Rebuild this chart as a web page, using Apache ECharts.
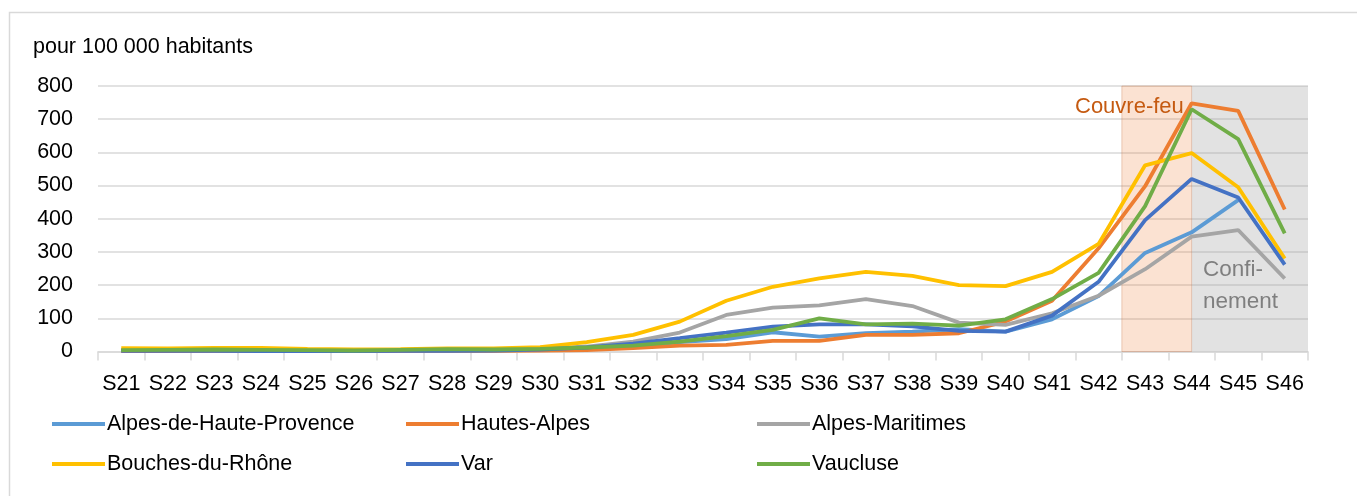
<!DOCTYPE html>
<html>
<head>
<meta charset="utf-8">
<script src="https://cdn.jsdelivr.net/npm/echarts@6/dist/echarts.min.js"></script>
<style>
  html, body { margin: 0; padding: 0; background: #fff; }
  #chart { width: 1357px; height: 496px; }
</style>
</head>
<body>
<div id="chart"></div>
<script>
var weeks = ['S21','S22','S23','S24','S25','S26','S27','S28','S29','S30','S31','S32','S33',
             'S34','S35','S36','S37','S38','S39','S40','S41','S42','S43','S44','S45','S46'];

var alpesHauteProvence = [3,3,3,3,2,2,3,3,3,5,8,15,28,37,58,45,55,60,67,60,97,167,297,359,456,null];
var hautesAlpes        = [1,1,2,2,1,1,2,2,2,3,4,10,18,20,32,32,50,50,55,90,153,311,498,748,725,428];
var alpesMaritimes     = [5,5,6,5,4,3,4,5,5,8,15,30,57,110,132,139,158,137,87,80,115,168,248,346,366,220];
var bouchesDuRhone     = [10,9,11,11,8,6,7,9,9,13,28,50,90,153,195,220,240,228,200,197,240,324,561,598,495,280];
var varDep             = [2,2,2,1,1,1,2,2,3,6,12,24,40,57,75,82,82,76,62,60,108,210,396,520,464,262];
var vaucluse           = [4,5,6,5,4,3,5,7,6,8,12,18,30,46,65,100,82,84,78,97,158,237,438,730,640,356];

var yTicks = [0,100,200,300,400,500,600,700,800];

// zones (en semaines, 0 = bord gauche de S21)
var couvreFeu = [22, 23.5];
var confinement = [23.5, 26];

var font = 'Liberation Sans, Arial, sans-serif';
var myChart = echarts.init(document.getElementById('chart'));

function line(name, data, color) {
    return {
        name: name,
        type: 'line',
        data: data,
        symbol: 'none',
        smooth: false,
        lineStyle: { width: 3.8, color: color },
        itemStyle: { color: color },
        z: 5
    };
}

var option = {
    backgroundColor: '#fff',
    animation: false,
    grid: { left: 98, right: 49, top: 86, bottom: 144.5, containLabel: false },
    graphic: [
        { type: 'rect', left: 7, top: 10, shape: { width: 1400, height: 520 },
          style: { fill: 'none', stroke: '#d9d9d9', lineWidth: 1.5 }, silent: true },
        { type: 'text', left: 33, top: 36,
          style: { text: 'pour 100 000 habitants', font: '21.5px ' + font, fill: '#000' } },
        { type: 'text', left: 1075, top: 96, z: 10,
          style: { text: 'Couvre-feu', font: '22px ' + font, fill: '#c55a11' } },
        { type: 'text', left: 1203, top: 258, z: 10,
          style: { text: 'Confi-', font: '22.5px ' + font, fill: '#7f7f7f' } },
        { type: 'text', left: 1203, top: 290, z: 10,
          style: { text: 'nement', font: '22.5px ' + font, fill: '#7f7f7f' } }
    ],
    legend: [
        { data: ['Alpes-de-Haute-Provence', 'Bouches-du-Rhône'], left: 52 },
        { data: ['Hautes-Alpes', 'Var'], left: 406 },
        { data: ['Alpes-Maritimes', 'Vaucluse'], left: 757 }
    ].map(function (l) {
        return {
            data: l.data, left: l.left, top: 413, orient: 'vertical', padding: 0,
            itemGap: 18, itemWidth: 53, itemHeight: 4, icon: 'rect',
            textStyle: { fontSize: 21.5, fontFamily: font, color: '#000', padding: [0, 0, 0, -3] }
        };
    }),
    xAxis: [{
        type: 'category',
        data: weeks,
        boundaryGap: true,
        axisLine: { show: true, lineStyle: { color: '#d9d9d9', width: 1.5 } },
        axisTick: { show: true, length: 9, lineStyle: { color: '#d9d9d9', width: 1.5 } },
        axisLabel: { color: '#000', fontSize: 21.5, fontFamily: font, margin: 22, interval: 0 },
        splitLine: { show: false }
    }, {
        type: 'value', min: 0, max: 26, show: false
    }],
    yAxis: {
        type: 'value',
        min: 0, max: 800, interval: 100,
        axisLine: { show: false },
        axisTick: { show: false },
        axisLabel: { color: '#000', fontSize: 21.5, fontFamily: font, margin: 25,
            formatter: function (v) { return yTicks.indexOf(v) >= 0 ? String(v) : ''; } },
        splitLine: { lineStyle: { color: '#d9d9d9', width: 1.5 } }
    },
    series: [
        {
            name: 'zones', type: 'line', xAxisIndex: 1, data: [], silent: true, z: 1,
            markArea: {
                silent: true,
                data: [
                    [{ xAxis: couvreFeu[0], itemStyle: { color: 'rgba(237,125,49,0.22)', borderColor: 'rgba(197,120,80,0.35)', borderWidth: 1 } },
                     { xAxis: couvreFeu[1] }],
                    [{ xAxis: confinement[0], itemStyle: { color: 'rgba(165,165,165,0.32)' } },
                     { xAxis: confinement[1] }]
                ]
            }
        },
        line('Alpes-de-Haute-Provence', alpesHauteProvence, '#5b9bd5'),
        line('Hautes-Alpes', hautesAlpes, '#ed7d31'),
        line('Alpes-Maritimes', alpesMaritimes, '#a5a5a5'),
        line('Bouches-du-Rhône', bouchesDuRhone, '#ffc000'),
        line('Var', varDep, '#4472c4'),
        line('Vaucluse', vaucluse, '#70ad47')
    ]
};

myChart.setOption(option);
</script>
</body>
</html>
